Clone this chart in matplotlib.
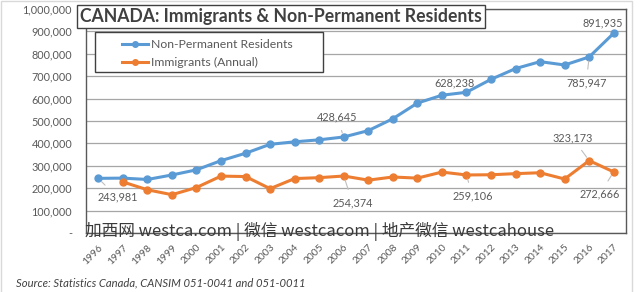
import matplotlib
matplotlib.use("Agg")
import matplotlib.pyplot as plt
from matplotlib.patches import Rectangle
import numpy as np

years = [str(y) for y in range(1996, 2018)]
npr = [243981, 245000, 239000, 259000, 282000, 323000, 356000, 396000, 407000, 416000,
       428645, 457000, 510000, 580000, 615000, 628238, 686000, 734000, 765000, 750000,
       785947, 891935]
immig = [np.nan, 228000, 193000, 171000, 203000, 254000, 252000, 198000, 243000, 247000,
         254374, 236000, 250000, 245000, 272000, 259106, 260000, 265000, 269000, 241000,
         323173, 272666]
yticks = [0, 100000, 200000, 300000, 400000, 500000, 600000, 700000, 800000, 900000, 1000000]
ytick_labels = ["-", "100,000", "200,000", "300,000", "400,000", "500,000", "600,000",
                "700,000", "800,000", "900,000", "1,000,000"]

# (series, year index, label, dx px, dy px, leader)
labels = [
    ("npr", 0, "243,981", 19, -19, True),
    ("npr", 10, "428,645", -7, 20, True),
    ("npr", 15, "628,238", -12, 9, False),
    ("npr", 20, "785,947", -3, -26, True),
    ("npr", 21, "891,935", -11, 10, False),
    ("imm", 10, "254,374", 9, -27, True),
    ("imm", 15, "259,106", 6, -21, True),
    ("imm", 20, "323,173", -17, 23, True),
    ("imm", 21, "272,666", -14, -22, True),
]

BLUE = "#5B9BD5"
ORANGE = "#ED7D31"
GRAY = "#595959"
FONT = ["Lato", "DejaVu Sans"]
plt.rcParams["font.family"] = FONT

W, H = 640, 292
fig = plt.figure(figsize=(6.4, 2.92), dpi=100)
ax = fig.add_axes([86 / W, 1 - 233 / H, (626 - 86) / W, (233 - 9) / H])

x = np.arange(len(years))
ax.plot(x, npr, color=BLUE, lw=2.2, marker="o", ms=5, label="Non-Permanent Residents", zorder=3)
ax.plot(x, immig, color=ORANGE, lw=2.2, marker="o", ms=5, label="Immigrants (Annual)", zorder=3)

ax.set_xlim(-0.5, len(years) - 0.5)
ax.set_ylim(0, 1000000)
ax.set_yticks(yticks)
ax.set_yticklabels(ytick_labels, color=GRAY, fontsize=7.8)
ax.set_xticks(x)
ax.set_xticklabels(years, rotation=45, ha="right", va="top", color=GRAY, fontsize=7.4,
                   rotation_mode="anchor")
ax.tick_params(axis="y", length=0, pad=10)
ax.tick_params(axis="x", length=0, pad=7)
ax.grid(axis="y", color="#a6a6a6", lw=0.9)
ax.set_axisbelow(True)
for s in ax.spines.values():
    s.set_color(GRAY)
    s.set_linewidth(1.0)

series = {"npr": npr, "imm": immig}
for key, i, txt, dx, dy, leader in labels:
    v = series[key][i]
    ap = dict(arrowstyle="-", color="#bfbfbf", lw=0.8, shrinkA=4, shrinkB=3) if leader else None
    ax.annotate(txt, xy=(i, v), xytext=(dx, dy), textcoords="offset pixels",
                ha="center", va="center", fontsize=7.8, color=GRAY,
                arrowprops=ap, zorder=4)

# Legend frame (drawn separately so content can be centred like Excel)
ax_w, ax_h = 626 - 86, 233 - 9
legbox = Rectangle(((95 - 86) / ax_w, (233 - 72) / ax_h), (323 - 95) / ax_w, (72 - 32) / ax_h,
                   transform=ax.transAxes, fc="white", ec="#404040", lw=1.0, zorder=5)
ax.add_patch(legbox)
leg = ax.legend(loc="center left", bbox_to_anchor=((122 - 86) / ax_w, (233 - 53.5) / ax_h),
                frameon=False, fontsize=8.8, handlelength=2.1, handletextpad=0.25,
                borderpad=0, labelspacing=0.6, borderaxespad=0)
for t in leg.get_texts():
    t.set_color(GRAY)
leg.set_zorder(6)
for h in leg.legend_handles:
    h.set_linewidth(2.2)
    h.set_markersize(4)

# Title box
fig.text(80 / W, 1 - 16.5 / H, "CANADA: Immigrants & Non-Permanent Residents",
         fontsize=12.7, fontweight="bold", color="#404040", ha="left", va="center",
         bbox=dict(boxstyle="square,pad=0.15", fc="white", ec="#404040", lw=1.0), zorder=10)

# Watermark
fig.text(320 / W, 1 - 231 / H, "加西网 westca.com | 微信 westcacom | 地产微信 westcahouse",
         fontsize=12, color="#3a3a3a", ha="center", va="center",
         family=["Noto Sans CJK SC", "DejaVu Sans"], zorder=20)

# Source
fig.text(16 / W, 1 - 283 / H, "Source: Statistics Canada, CANSIM 051-0041 and 051-0011",
         fontsize=8.1, style="italic", color="#404040", ha="left", va="center")

# outer light border
fig.patches.append(Rectangle((1 / W, -0.1), (632 - 1) / W, 1.1 - 1 / H,
                             transform=fig.transFigure, fill=False, ec="#d9d9d9", lw=1.0))

fig.savefig("out.png", dpi=100)
